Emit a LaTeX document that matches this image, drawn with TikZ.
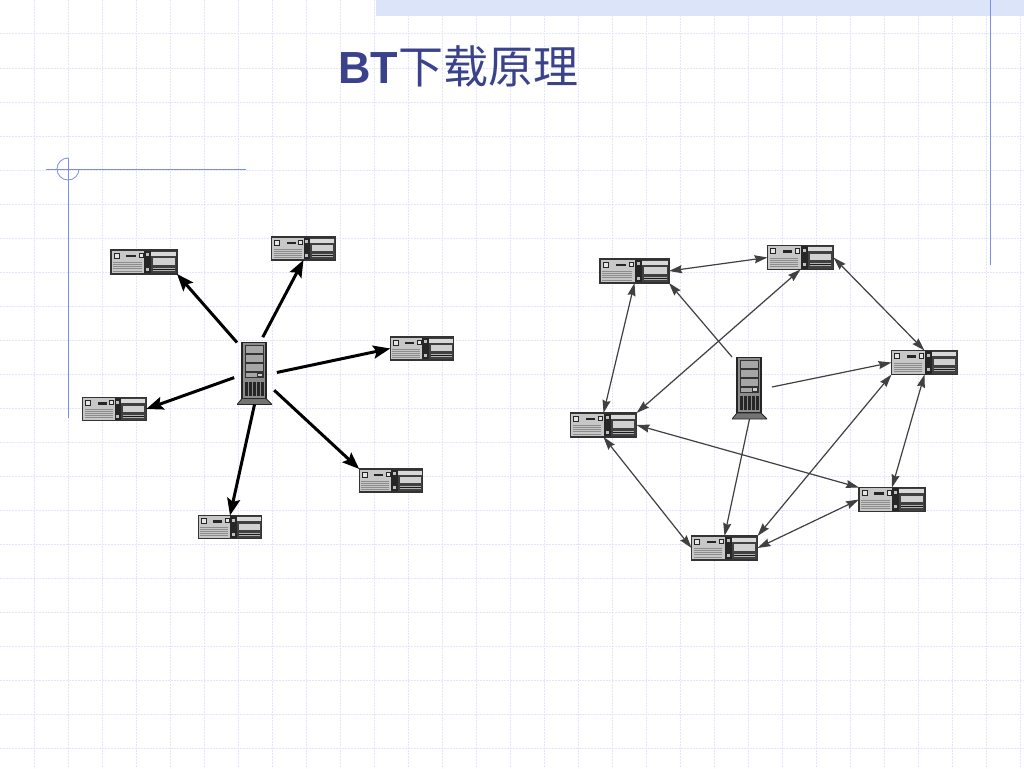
\documentclass[tikz,border=0pt]{standalone}
\usepackage{fontspec}
\setmainfont{Liberation Sans}
\newfontfamily\cjk{Noto Sans CJK SC}
\usepackage{tikz}
\usetikzlibrary{arrows.meta}

\definecolor{gridblue}{RGB}{226,230,250}
\definecolor{bandblue}{RGB}{220,228,250}
\definecolor{ruleblue}{RGB}{125,142,222}
\definecolor{titleblue}{RGB}{58,66,140}

\newcommand{\desktopart}{%
    \fill[black!22] (0,0) rectangle (32,23);
    \fill[black!85] (32,0) rectangle (39,23);
    \fill[black!75] (39,0) rectangle (64,23);
    \fill[black!15] (39,1.5) rectangle (63,5.5);
    \fill[black!18] (41,8) rectangle (62,14);
    \fill[black!30] (41,17) rectangle (62,20);
    \fill[black!90] (41,18) rectangle (62,19);
    \draw[black!85,fill=black!10,line width=0.8pt] (3,3) rectangle (8,8);
    \draw[black!85,fill=black!10,line width=0.6pt] (27,3) rectangle (31,7);
    \fill[black!85] (15,4.5) rectangle (24,7);
    \fill[black!25] (34,3) rectangle (37,6);
    \fill[black!25] (34,17) rectangle (37,20);
    \foreach \ypos in {12,14,16,18,20}
        \draw[black!45,line width=0.6pt] (2,\ypos) -- (30,\ypos);
}

\newcommand{\towerart}{%
    \draw[black!85,fill=black!45,line width=1.2pt] (5,0) rectangle (29,56);
    \foreach \ypos in {3,12,21}
        \draw[black!80,fill=black!35,line width=0.6pt] (8,\ypos) rectangle (26,\ypos+8);
    \draw[black!80,fill=black!35,line width=0.6pt] (8,30) rectangle (26,35);
    \draw[black!80,fill=black!20,line width=0.4pt] (20,30.5) rectangle (25,34);
    \foreach \xpos in {9.5,13.5,17.5,21.5,25.5}
        \fill[black!85] (\xpos-1.1,39) rectangle (\xpos+1.1,53);
    \draw[black!85,fill=black!55,line width=0.8pt] (5,56) -- (29,56) -- (35,62) -- (0,62) -- cycle;
}

\begin{document}
\begin{tikzpicture}[x=1pt,y=-1pt,
    boxnode/.style 2 args={rectangle, draw=black!80, line width=1.2pt, fill=black!20, inner sep=0pt, outer sep=0pt,
        minimum width=#1pt, minimum height=#2pt,
        path picture={\begin{scope}[x={#1pt/64},y={-#2pt/23}]\pgftransformshift{\pgfpointxy{-32}{-11.5}}\desktopart\end{scope}}},
    leftbox/.style={boxnode={63.5}{23}},
    rightbox/.style={boxnode={66}{24}},
    towernode/.style={rectangle, inner sep=0pt, outer sep=0pt, minimum width=35pt, minimum height=62pt,
        path picture={\begin{scope}[x=1pt,y=-1pt]\pgftransformshift{\pgfpointxy{-17.5}{-31}}\towerart\end{scope}}},
    thickarrow/.style={-{Stealth[length=17pt,width=13pt,inset=3pt]}, line width=3pt, black},
    thinarrow/.style={-{Stealth[length=13pt,width=8pt,inset=1.5pt]}, line width=1.2pt, black!75},
    botharrow/.style={{Stealth[length=13pt,width=8pt,inset=1.5pt]}-{Stealth[length=13pt,width=8pt,inset=1.5pt]}, line width=1.2pt, black!75},
    gridline/.style={gridblue, line width=1pt, dash pattern=on 2pt off 1pt},
    ruleline/.style={ruleblue, line width=0.8pt}]

    \useasboundingbox (0,0) rectangle (1024,768);
    \fill[white] (0,0) rectangle (1024,768);

    % squared paper
    \foreach \k in {1,...,30}
        \draw[gridline] (34*\k,0) -- (34*\k,768);
    \foreach \k in {1,...,22}
        \draw[gridline] (0,34*\k) -- (1024,34*\k);
    \fill[bandblue] (376,0) rectangle (1024,16);
    \draw[ruleline] (990,0) -- (990,265);
    \draw[ruleline] (46,169) -- (246,169);
    \draw[ruleline] (68,158) -- (68,418);
    \draw[ruleline] (68,158) arc[start angle=90,end angle=360,radius=11pt];

    \node[anchor=west, inner sep=0pt, text=titleblue] (title) at (338,66)
        {\fontsize{45}{50}\selectfont\textbf{BT}\cjk 下载原理};

    % left
    \node[towernode] (hub) at (254.5,373.5) {};
    \node[boxnode={66}{24}] (d1) at (144,262) {};
    \node[leftbox] (d2) at (303.5,248.5) {};
    \node[leftbox] (d3) at (422,348.5) {};
    \node[leftbox] (d4) at (114.5,409) {};
    \node[leftbox] (d5) at (391,480.5) {};
    \node[leftbox] (d6) at (230,527) {};

    \draw[thickarrow] (hub.north west) -- (d1.south east);
    \draw[thickarrow, shorten <=6pt] (hub.80) -- (d2.south);
    \draw[thickarrow, shorten <=5pt] (hub.east) -- (d3.west);
    \draw[thickarrow, shorten <=3pt] (hub.190) -- (d4.east);
    \draw[thickarrow, shorten <=3pt] (hub.-40) -- (d5.north west);
    \draw[thickarrow] (hub.south) -- (d6.north);

    % right
    \node[towernode] (hub2) at (749.5,388) {};
    \node[boxnode={69}{24}] (r1) at (634.5,271) {};
    \node[rightbox] (r2) at (800.5,257.5) {};
    \node[rightbox] (r3) at (924.5,362.5) {};
    \node[rightbox] (r4) at (892,499.5) {};
    \node[rightbox] (r5) at (724.5,548) {};
    \node[rightbox] (r6) at (603.5,425) {};

    \draw[thinarrow] (hub2.north west) -- (r1.south east);
    \draw[thinarrow, shorten <=5pt] (hub2.east) -- (r3.west);
    \draw[thinarrow] (hub2.south) -- (r5.north);
    \draw[botharrow] (r1.east) -- (r2.west);
    \draw[botharrow] (r2.east) -- (r3.north);
    \draw[botharrow] (r3.south) -- (r4.north);
    \draw[botharrow] (r4.west) -- (r5.east);
    \draw[botharrow] (r5.west) -- (r6.south);
    \draw[botharrow] (r6.north) -- (r1.south);
    \draw[botharrow] (r2.south) -- (r6.north east);
    \draw[botharrow] (r6.east) -- (r4.north west);
    \draw[botharrow] (r3.south west) -- (r5.north east);

\end{tikzpicture}
\end{document}
